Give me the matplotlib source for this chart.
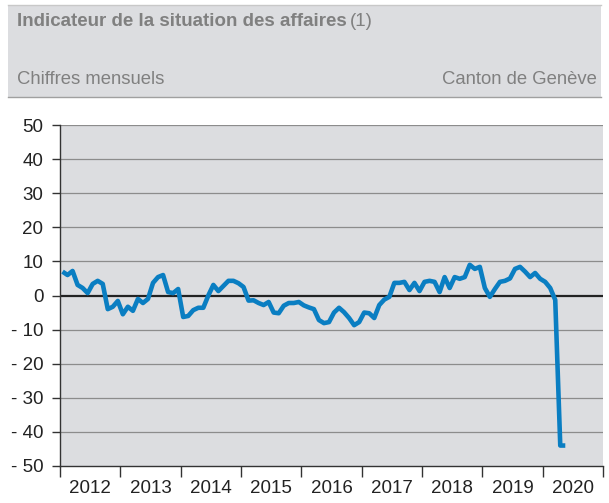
import numpy as np
import matplotlib
matplotlib.use("Agg")
import matplotlib.pyplot as plt
from matplotlib.patches import Rectangle
from matplotlib.lines import Line2D

plt.rcParams['font.family'] = ['Liberation Sans', 'DejaVu Sans']

# monthly values, Jan 2012 - May 2020
values = [
    7.0, 6.0, 7.2, 3.1, 2.2, 0.7, 3.4, 4.3, 3.4, -4.0, -3.3, -1.6,     # 2012
    -5.5, -3.3, -4.5, -1.0, -2.2, -1.0, 3.7, 5.4, 6.0, 1.0, 0.7, 1.9,  # 2013
    -6.3, -6.0, -4.3, -3.6, -3.6, 0.0, 3.1, 1.3, 2.8, 4.3, 4.3, 3.6,   # 2014
    2.5, -1.5, -1.4, -2.2, -2.8, -1.9, -5.0, -5.2, -3.0, -2.2, -2.2, -1.9,  # 2015
    -2.9, -3.5, -4.0, -7.2, -8.1, -7.8, -5.0, -3.6, -4.9, -6.6, -8.7, -7.8,  # 2016
    -5.0, -5.2, -6.6, -2.8, -1.2, -0.4, 3.7, 3.7, 4.0, 1.6, 3.7, 1.3,  # 2017
    4.0, 4.3, 4.0, 1.0, 5.4, 2.2, 5.4, 4.9, 5.4, 9.0, 7.8, 8.4,        # 2018
    2.2, -0.4, 1.9, 4.0, 4.3, 5.0, 7.8, 8.4, 7.0, 5.4, 6.6, 4.9,       # 2019
    4.0, 2.2, -1.3, -44.0, -44.0,                                      # 2020
]
start_year = 2012
years = list(range(2012, 2021))
yticks = [50, 40, 30, 20, 10, 0, -10, -20, -30, -40, -50]
ylabels = ['50', '40', '30', '20', '10', '0', '- 10', '- 20', '- 30', '- 40', '- 50']

title = "Indicateur de la situation des affaires"
note = "(1)"
subtitle_left = "Chiffres mensuels"
subtitle_right = "Canton de Genève"

bg = '#dcdde0'
txt_gray = '#808080'
blue = '#0a7ec2'

W, H = 609, 503
fig = plt.figure(figsize=(W / 100, H / 100), dpi=100)
fig.patch.set_facecolor('white')

# header band
fig.patches.append(Rectangle((8 / W, 1 - 97 / H), (601 - 8) / W, (97 - 5) / H,
                             transform=fig.transFigure, facecolor=bg, edgecolor='none', zorder=0))
fig.lines.append(Line2D([8 / W, 601 / W], [1 - 5 / H, 1 - 5 / H], transform=fig.transFigure,
                        color='#c8c8c8', lw=1))
fig.lines.append(Line2D([8 / W, 601 / W], [1 - 97 / H, 1 - 97 / H], transform=fig.transFigure,
                        color='#a0a0a0', lw=1))

ax = fig.add_axes([60 / W, 1 - 466 / H, (603 - 60) / W, (466 - 125) / H])
ax.set_facecolor(bg)

x = start_year + (np.arange(len(values)) + 0.5) / 12
ax.plot(x, values, color=blue, lw=3.3, solid_joinstyle='round', solid_capstyle='butt', zorder=3)

ax.set_xlim(2012, 2021)
ax.set_ylim(-50, 50)
ax.set_yticks(yticks)
ax.set_yticklabels(ylabels)
ax.set_xticks(list(range(2012, 2022)))
ax.set_xticklabels([])
ax.set_xticks([y + 0.5 for y in years], minor=True)
ax.set_xticklabels([str(y) for y in years], minor=True)

for v in yticks:
    if v == 0:
        ax.axhline(0, color='#222222', lw=1.6, zorder=2)
    elif v != -50:
        ax.axhline(v, color='#8c8c8c', lw=0.9, zorder=1)

for s in ['top', 'right']:
    ax.spines[s].set_visible(False)
for s in ['left', 'bottom']:
    ax.spines[s].set_color('#333333')
    ax.spines[s].set_linewidth(1.0)

ax.tick_params(axis='y', length=6, width=1, color='#333333', labelsize=13.5,
               labelcolor='#222222', pad=6)
ax.tick_params(axis='x', which='major', length=8, width=1, color='#333333')
ax.tick_params(axis='x', which='minor', length=0, labelsize=13.5, labelcolor='#222222', pad=10)

t = fig.text(17 / W, 1 - 22 / H, title, fontsize=13.5, fontweight='bold', color=txt_gray,
             va='center', ha='left')
fig.canvas.draw()
bb = t.get_window_extent()
fig.text((bb.x1 + 3) / W, 1 - 22 / H, note, fontsize=13.5, color=txt_gray, va='center', ha='left')
fig.text(17 / W, 1 - 80 / H, subtitle_left, fontsize=13.3, color=txt_gray, va='center', ha='left')
fig.text(597 / W, 1 - 80 / H, subtitle_right, fontsize=13.3, color=txt_gray, va='center', ha='right')

fig.savefig('out.png', dpi=100, facecolor='white')
